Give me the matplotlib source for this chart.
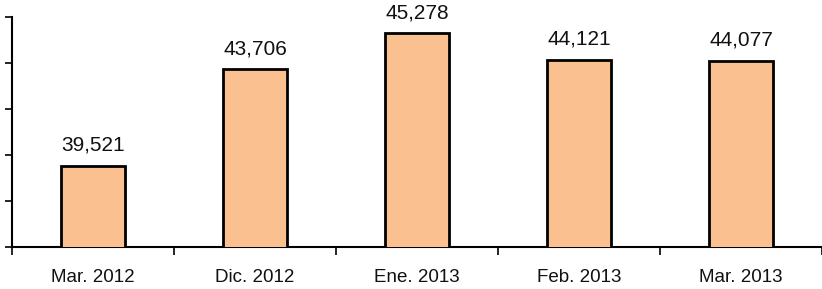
import matplotlib.pyplot as plt
from matplotlib.ticker import MultipleLocator

# --- data ---
categories = ['Mar. 2012', 'Dic. 2012', 'Ene. 2013', 'Feb. 2013', 'Mar. 2013']
values = [39521, 43706, 45278, 44121, 44077]

plt.rcParams['font.family'] = ['Liberation Sans', 'DejaVu Sans']

fig = plt.figure(figsize=(8.22, 2.89), dpi=100)
ax = fig.add_axes([12 / 822, 42 / 289, 810 / 822, 230.5 / 289])

x = list(range(len(categories)))
ax.bar(x, values, width=0.4, color='#FAC090', edgecolor='black', linewidth=2, zorder=3)

for xi, v in zip(x, values):
    ax.annotate(f'{v:,}', (xi, v), xytext=(0, 8), textcoords='offset points',
                ha='center', va='bottom', fontsize=15, color='#111111')

ax.set_xlim(-0.5, len(categories) - 0.5)
ax.set_ylim(36000, 46000)
ax.yaxis.set_major_locator(MultipleLocator(2000))
ax.tick_params(axis='y', labelleft=False, length=5, width=1.2)

# category labels centered, tick marks at boundaries
ax.set_xticks(x)
ax.set_xticklabels(categories, fontsize=13.5, color='#111111')
ax.tick_params(axis='x', which='major', length=0, pad=16)
ax.set_xticks([i - 0.5 for i in range(len(categories) + 1)], minor=True)
ax.tick_params(axis='x', which='minor', length=6, width=1.2, direction='out')

for side in ['top', 'right']:
    ax.spines[side].set_visible(False)
ax.spines['left'].set_linewidth(1.5)
ax.spines['bottom'].set_linewidth(1.5)

fig.savefig('out.png', dpi=100)
